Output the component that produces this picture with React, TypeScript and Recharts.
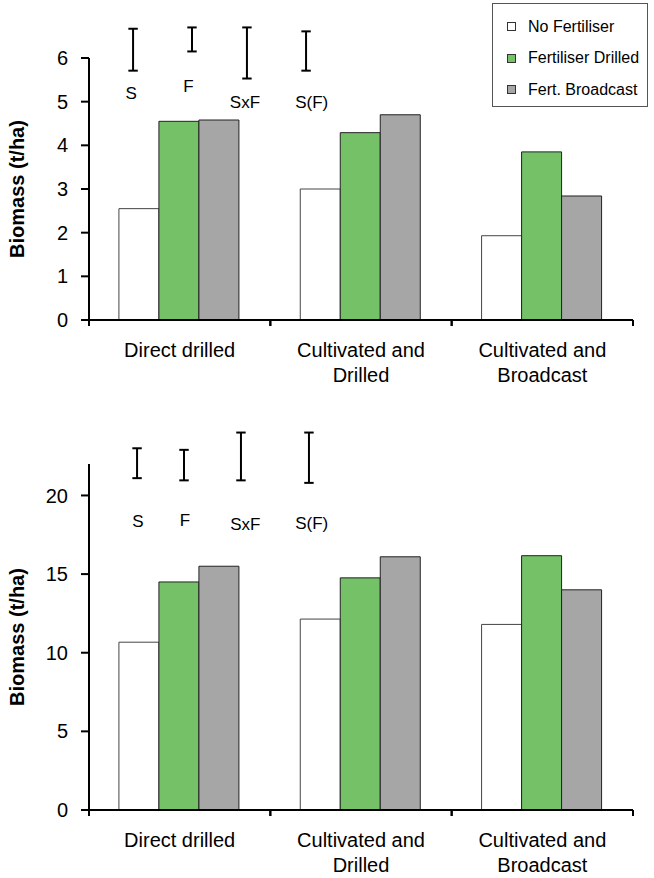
import React from 'react';
import { BarChart, Bar, XAxis, YAxis, ReferenceLine, ReferenceDot, Legend } from 'recharts';

// ---------- data ----------
const categories = ['Direct drilled', 'Cultivated and\nDrilled', 'Cultivated and\nBroadcast'];
const seriesNames = ['No Fertiliser', 'Fertiliser Drilled', 'Fert. Broadcast'];

const topNoFert = [2.55, 3.0, 1.93];
const topFertDrilled = [4.55, 4.29, 3.85];
const topFertBroadcast = [4.58, 4.7, 2.84];

const bottomNoFert = [10.67, 12.14, 11.8];
const bottomFertDrilled = [14.5, 14.76, 16.17];
const bottomFertBroadcast = [15.5, 16.1, 14.0];

const topTicks = [0, 1, 2, 3, 4, 5, 6];
const bottomTicks = [0, 5, 10, 15, 20];

const lsdLabels = ['S', 'F', 'SxF', 'S(F)'];
const topLsdLow = [5.71, 6.15, 5.53, 5.71];
const topLsdHigh = [6.67, 6.7, 6.7, 6.61];
const bottomLsdLow = [21.1, 20.96, 20.96, 20.8];
const bottomLsdHigh = [23.0, 22.9, 24.0, 24.0];

// ---------- annotation placement (layout, in category-slot units 0..3) ----------
const topBarX = [0.243, 0.568, 0.871, 1.197];
const topLabelX = [0.232, 0.548, 0.86, 1.228];
const topLabelY = [5.19, 5.37, 5.0, 5.0];
const bottomBarX = [0.265, 0.524, 0.838, 1.213];
const bottomLabelX = [0.27, 0.529, 0.862, 1.228];
const bottomLabelY = [18.4, 18.45, 18.2, 18.27];

const FONT = '"Liberation Sans", Arial, sans-serif';
const GREEN = '#74C168';
const GREY = '#A6A6A6';

const buildData = (a: number[], b: number[], c: number[]) =>
  categories.map((cat, i) => ({ category: cat, slot: i + 0.5, noFert: a[i], fertDrilled: b[i], fertBroadcast: c[i] }));

const topData = buildData(topNoFert, topFertDrilled, topFertBroadcast);
const bottomData = buildData(bottomNoFert, bottomFertDrilled, bottomFertBroadcast);

const CatTick = (props: any) => {
  const { x, y, payload } = props;
  const half = payload && typeof payload.offset === 'number' ? payload.offset : 0;
  const lines = String(payload.value).split('\n');
  return (
    <g>
      {half > 0 && (
        <>
          <line x1={x - half} x2={x - half} y1={y} y2={y + 6} stroke="#000" strokeWidth={2} />
          <line x1={x + half} x2={x + half} y1={y} y2={y + 6} stroke="#000" strokeWidth={2} />
        </>
      )}
      <text x={x} y={y} textAnchor="middle" fontFamily={FONT} fontSize={20} fill="#000">
        {lines.map((ln, i) => (
          <tspan key={i} x={x} y={y + 37 + i * 25}>
            {ln}
          </tspan>
        ))}
      </text>
    </g>
  );
};

const YLabel = (props: any) => {
  const vb = props.viewBox || {};
  const x = (vb.x || 0) + 24;
  const y = (vb.y || 0) + (vb.height || 0) / 2;
  return (
    <text
      x={x}
      y={y}
      textAnchor="middle"
      fontFamily={FONT}
      fontSize={20}
      fontWeight="bold"
      fill="#000"
      transform={`rotate(-90, ${x}, ${y})`}
    >
      Biomass (t/ha)
    </text>
  );
};

const LegendBox = (props: any) => {
  const payload = [...(props.payload || [])].sort(
    (a: any, b: any) => seriesNames.indexOf(a.value) - seriesNames.indexOf(b.value)
  );
  return (
    <div
      style={{
        boxSizing: 'border-box',
        width: 156,
        height: 104,
        border: '1px solid #555',
        background: '#fff',
        paddingTop: 7,
        paddingLeft: 14,
        fontFamily: FONT,
      }}
    >
      {payload.map((p: any, i: number) => (
        <div key={i} style={{ display: 'flex', alignItems: 'center', height: 31.5 }}>
          <span
            style={{
              display: 'inline-block',
              boxSizing: 'border-box',
              width: 9,
              height: 9,
              border: '1px solid #333',
              background: p.color,
            }}
          />
          <span style={{ marginLeft: 12, fontSize: 16, color: '#000', whiteSpace: 'nowrap' }}>{p.value}</span>
        </div>
      ))}
    </div>
  );
};

type PanelProps = {
  data: any[];
  height: number;
  marginTop: number;
  marginBottom: number;
  yMax: number;
  ticks: number[];
  lsdLow: number[];
  lsdHigh: number[];
  barX: number[];
  labelX: number[];
  labelY: number[];
  capHalf: number;
  showLegend: boolean;
};

const Panel = (p: PanelProps) => {
  const errorBars: any[] = [];
  lsdLabels.forEach((lab, i) => {
    const x = p.barX[i];
    errorBars.push(
      <ReferenceLine
        key={`v${i}`}
        xAxisId="eb"
        ifOverflow="visible"
        segment={[{ x, y: p.lsdLow[i] }, { x, y: p.lsdHigh[i] }]}
        stroke="#000"
        strokeWidth={2}
      />,
      <ReferenceLine
        key={`t${i}`}
        xAxisId="eb"
        ifOverflow="visible"
        segment={[{ x: x - p.capHalf, y: p.lsdHigh[i] }, { x: x + p.capHalf, y: p.lsdHigh[i] }]}
        stroke="#000"
        strokeWidth={2}
      />,
      <ReferenceLine
        key={`b${i}`}
        xAxisId="eb"
        ifOverflow="visible"
        segment={[{ x: x - p.capHalf, y: p.lsdLow[i] }, { x: x + p.capHalf, y: p.lsdLow[i] }]}
        stroke="#000"
        strokeWidth={2}
      />,
      <ReferenceDot
        key={`l${i}`}
        xAxisId="eb"
        x={p.labelX[i]}
        y={p.labelY[i]}
        r={0}
        ifOverflow="visible"
        stroke="none"
        fill="none"
        label={{ value: lab, position: 'center', fontFamily: FONT, fontSize: 17, fill: '#000' }}
      />
    );
  });

  return (
    <BarChart
      width={654}
      height={p.height}
      data={p.data}
      margin={{ top: p.marginTop, right: 21, bottom: p.marginBottom, left: 0 }}
      barCategoryGap="16.5%"
      barGap={0}
    >
      <XAxis
        dataKey="category"
        height={60}
        axisLine={{ stroke: '#000', strokeWidth: 2 }}
        tickLine={false}
        tickSize={0}
        tickMargin={0}
        interval={0}
        tick={<CatTick />}
      />
      <XAxis xAxisId="eb" dataKey="slot" type="number" domain={[0, 3]} allowDataOverflow hide />
      <YAxis
        width={89}
        domain={[0, p.yMax]}
        ticks={p.ticks}
        allowDataOverflow
        axisLine={{ stroke: '#000', strokeWidth: 2 }}
        tickLine={{ stroke: '#000', strokeWidth: 2 }}
        tickSize={8}
        tickMargin={13}
        tick={{ fontFamily: FONT, fontSize: 20, fill: '#000' }}
        label={{ content: <YLabel /> }}
      />
      {p.showLegend && (
        <Legend
          layout="vertical"
          align="center"
          verticalAlign="middle"
          wrapperStyle={{ left: 492, top: 3, width: 156, height: 104 }}
          content={<LegendBox />}
        />
      )}
      <Bar dataKey="noFert" name={seriesNames[0]} fill="#FFFFFF" stroke="#444" strokeWidth={1} legendType="square" isAnimationActive={false} />
      <Bar dataKey="fertDrilled" name={seriesNames[1]} fill={GREEN} stroke="#222" strokeWidth={1} legendType="square" isAnimationActive={false} />
      <Bar dataKey="fertBroadcast" name={seriesNames[2]} fill={GREY} stroke="#222" strokeWidth={1} legendType="square" isAnimationActive={false} />
      {errorBars}
    </BarChart>
  );
};

export default function App() {
  return (
    <div style={{ position: 'absolute', left: 0, top: 0, width: 654, height: 878, background: '#fff' }}>
      <Panel
        data={topData}
        height={420}
        marginTop={58}
        marginBottom={40}
        yMax={6}
        ticks={topTicks}
        lsdLow={topLsdLow}
        lsdHigh={topLsdHigh}
        barX={topBarX}
        labelX={topLabelX}
        labelY={topLabelY}
        capHalf={0.026}
        showLegend={true}
      />
      <Panel
        data={bottomData}
        height={458}
        marginTop={44}
        marginBottom={8}
        yMax={22}
        ticks={bottomTicks}
        lsdLow={bottomLsdLow}
        lsdHigh={bottomLsdHigh}
        barX={bottomBarX}
        labelX={bottomLabelX}
        labelY={bottomLabelY}
        capHalf={0.026}
        showLegend={false}
      />
    </div>
  );
}
